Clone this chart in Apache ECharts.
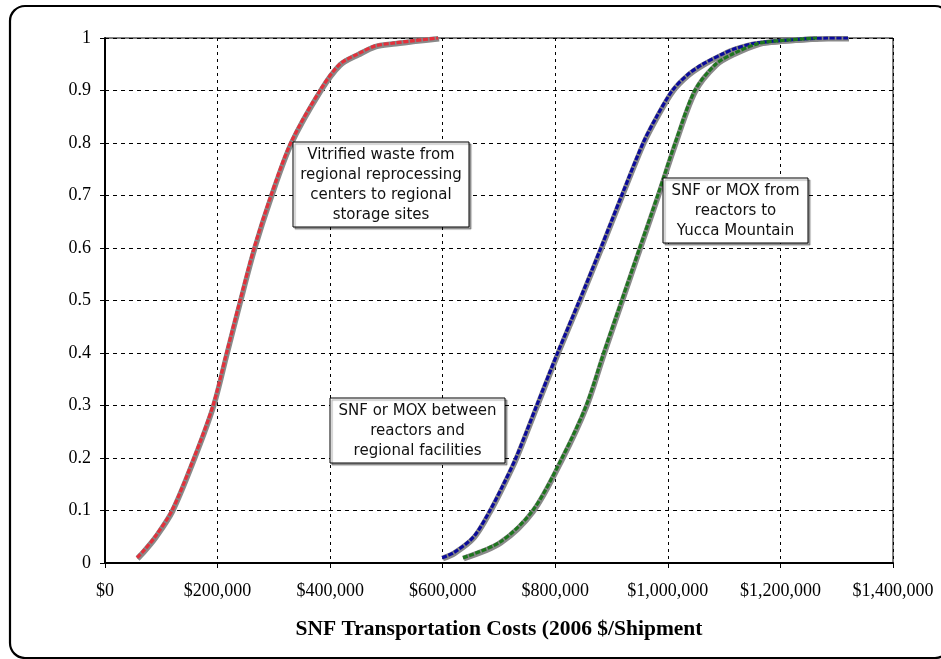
<!DOCTYPE html>
<html>
<head>
<meta charset="utf-8">
<script src="https://cdn.jsdelivr.net/npm/echarts@6/dist/echarts.min.js"></script>
<style>
html,body{margin:0;padding:0;background:#fff;}
#chart{width:941px;height:659px;}
</style>
</head>
<body>
<div id="chart"></div>
<script>
// ---- data ----
const xTicks = [0, 200000, 400000, 600000, 800000, 1000000, 1200000, 1400000];
const yTicks = [0, 0.1, 0.2, 0.3, 0.4, 0.5, 0.6, 0.7, 0.8, 0.9, 1];

const vitrifiedCost = [57000, 70000, 89000, 119000, 158000, 192000, 216000, 240000, 265000, 295000, 330000, 382000, 417000, 450000, 480000, 510000, 550000, 592000];
const vitrifiedProb = [0.01, 0.025, 0.05, 0.1, 0.2, 0.3, 0.4, 0.5, 0.6, 0.7, 0.8, 0.9, 0.95, 0.97, 0.985, 0.99, 0.995, 1.0];

const regionalCost = [599000, 620000, 655000, 684000, 708000, 730000, 767000, 804000, 843000, 881000, 918000, 956000, 980000, 1008000, 1035000, 1062000, 1098000, 1120000, 1155000, 1200000, 1283000, 1320000];
const regionalProb = [0.01, 0.02, 0.05, 0.1, 0.15, 0.2, 0.3, 0.4, 0.5, 0.6, 0.7, 0.8, 0.85, 0.9, 0.93, 0.95, 0.97, 0.98, 0.99, 0.995, 1.0, 1.0];

const yuccaCost = [636000, 702000, 760000, 812000, 855000, 886000, 918000, 950000, 982000, 1013000, 1048000, 1085000, 1116000, 1162000, 1200000, 1265000];
const yuccaProb = [0.01, 0.04, 0.1, 0.2, 0.3, 0.4, 0.5, 0.6, 0.7, 0.8, 0.9, 0.95, 0.97, 0.99, 0.995, 1.0];

const seriesNames = ['Vitrified waste', 'SNF or MOX between reactors and regional facilities', 'SNF or MOX from reactors to Yucca Mountain'];
const seriesColors = ['#E3303B', '#0B0B9C', '#1E761E'];
const xTitle = 'SNF Transportation Costs (2006 $/Shipment';
const notes = [
  'Vitrified waste from\nregional reprocessing\ncenters to regional\nstorage sites',
  'SNF or MOX between\nreactors and\nregional facilities',
  'SNF or MOX from\nreactors to\nYucca Mountain'
];

function pairs(xs, ys) { return xs.map((x, i) => [x, ys[i]]); }
const allData = [pairs(vitrifiedCost, vitrifiedProb), pairs(regionalCost, regionalProb), pairs(yuccaCost, yuccaProb)];

const series = [];
allData.forEach((d, i) => {
  series.push({
    type: 'line', name: seriesNames[i] + ' shadow', data: d, smooth: 0.3,
    symbol: 'none', showSymbol: false, silent: true, z: 2,
    lineStyle: { color: '#858585', width: 4, shadowColor: '#8a8a8a', shadowOffsetX: 1, shadowOffsetY: 1.5, shadowBlur: 0 }
  });
  series.push({
    type: 'line', name: seriesNames[i], data: d, smooth: 0.3,
    symbol: 'none', showSymbol: false, z: 3,
    lineStyle: { color: seriesColors[i], width: 3.2, type: [5, 1.6] }
  });
});

function noteBox(x, y, w, h, text) {
  return [
    { type: 'rect', z: 100, zlevel: 1, shape: { x: x, y: y, width: w, height: h },
      style: { fill: '#fff', stroke: '#000', lineWidth: 1, shadowColor: 'rgba(0,0,0,0.35)', shadowOffsetX: 2, shadowOffsetY: 2, shadowBlur: 1 } },
    { type: 'text', z: 101, zlevel: 1, x: x + w / 2, y: y + h / 2 + 1,
      style: { text: text, fill: '#111', font: '15px "DejaVu Sans"', align: 'center', verticalAlign: 'middle', lineHeight: 20 } }
  ];
}

const chart = echarts.init(document.getElementById('chart'), null, { renderer: 'canvas' });
chart.setOption({
  animation: false,
  backgroundColor: '#fff',
  grid: { left: 105, right: 48, top: 38, bottom: 96, show: true, borderColor: '#000', borderWidth: 1, containLabel: false },
  xAxis: {
    type: 'value', min: xTicks[0], max: xTicks[xTicks.length - 1], interval: xTicks[1] - xTicks[0],
    name: xTitle, nameLocation: 'middle', nameGap: 55,
    nameTextStyle: { fontFamily: '"Liberation Serif", serif', fontWeight: 'bold', fontSize: 21.5, color: '#000' },
    axisLine: { show: true, lineStyle: { color: '#000', width: 2 } },
    axisTick: { show: true, length: 5, inside: false, lineStyle: { color: '#000', width: 1 } },
    axisLabel: { margin: 19, fontFamily: '"Liberation Serif", serif', fontSize: 18, color: '#000',
      formatter: v => '$' + Math.round(v).toString().replace(/\B(?=(\d{3})+(?!\d))/g, ',') },
    splitLine: { show: true, lineStyle: { color: '#000', width: 1, type: [3, 4] } }
  },
  yAxis: {
    type: 'value', min: yTicks[0], max: yTicks[yTicks.length - 1], interval: 0.1,
    axisLine: { show: true, lineStyle: { color: '#000', width: 2 } },
    axisTick: { show: true, length: 5, inside: false, lineStyle: { color: '#000', width: 1 } },
    axisLabel: { margin: 14, fontFamily: '"Liberation Serif", serif', fontSize: 18, color: '#000',
      formatter: v => { const r = Math.round(v * 10) / 10; return String(r); } },
    splitLine: { show: true, lineStyle: { color: '#000', width: 1, type: [4, 4] } }
  },
  series: series,
  graphic: [
    { type: 'rect', z: 0, silent: true, shape: { x: 10, y: 6, width: 940, height: 652, r: 15 },
      style: { fill: 'none', stroke: '#000', lineWidth: 2.2 } }
  ].concat(
    noteBox(293, 142, 176, 85, notes[0]),
    noteBox(330, 398, 175, 65, notes[1]),
    noteBox(663, 178, 145, 65, notes[2])
  )
});
</script>
</body>
</html>
